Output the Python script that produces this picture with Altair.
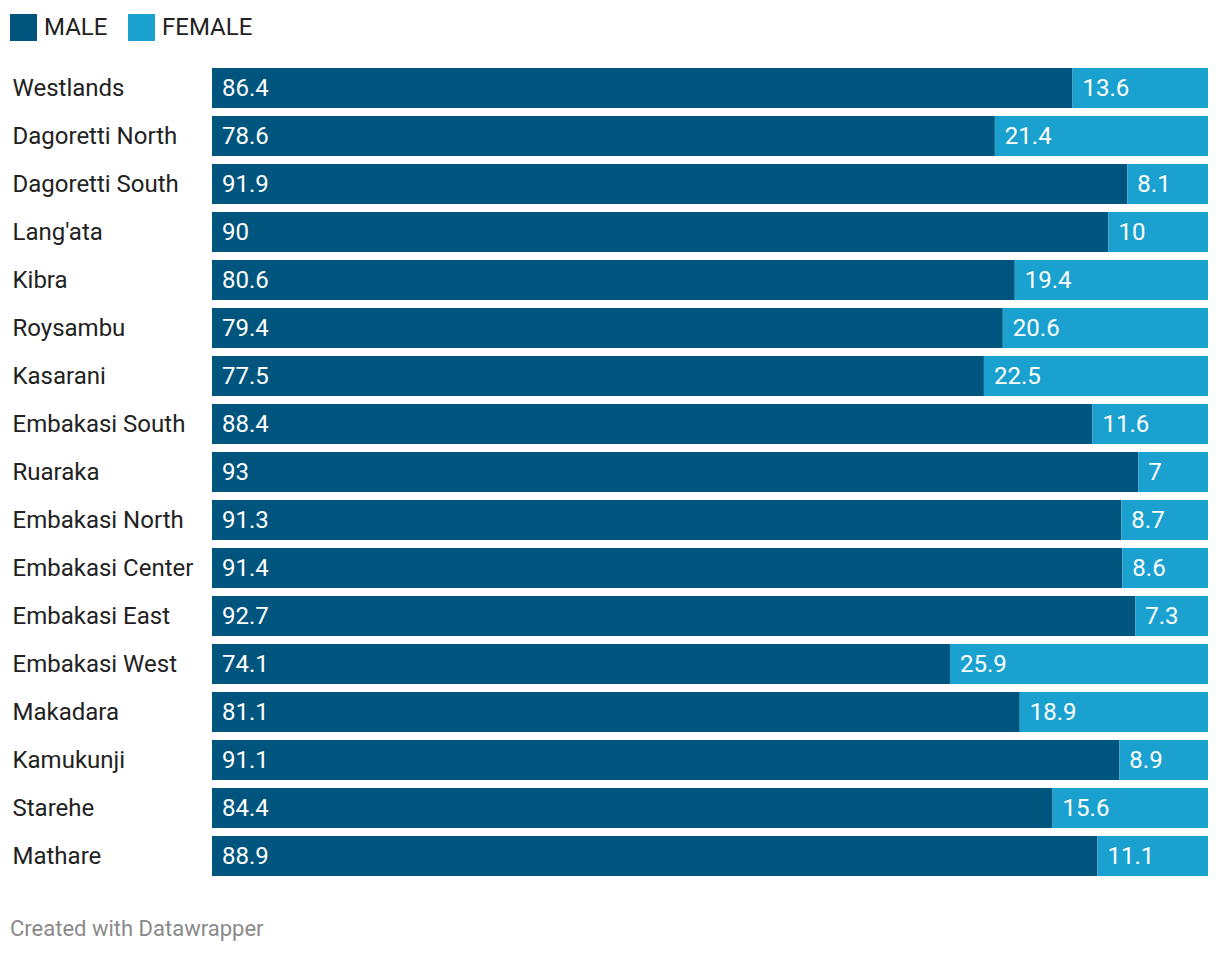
import altair as alt
import pandas as pd

districts = ["Westlands", "Dagoretti North", "Dagoretti South", "Lang'ata", "Kibra",
             "Roysambu", "Kasarani", "Embakasi South", "Ruaraka", "Embakasi North",
             "Embakasi Center", "Embakasi East", "Embakasi West", "Makadara",
             "Kamukunji", "Starehe", "Mathare"]
male = [86.4, 78.6, 91.9, 90, 80.6, 79.4, 77.5, 88.4, 93, 91.3, 91.4, 92.7, 74.1, 81.1, 91.1, 84.4, 88.9]
female = [13.6, 21.4, 8.1, 10, 19.4, 20.6, 22.5, 11.6, 7, 8.7, 8.6, 7.3, 25.9, 18.9, 8.9, 15.6, 11.1]
genders = ["MALE", "FEMALE"]
colors = ["#00557e", "#1aa1cf"]

rows = []
for d, m, f in zip(districts, male, female):
    rows.append({"district": d, "gender": "MALE", "value": m, "start": 0, "ord": 0})
    rows.append({"district": d, "gender": "FEMALE", "value": f, "start": m, "ord": 1})
df = pd.DataFrame(rows)

FONT = "Roboto"

y = alt.Y("district:N", sort=districts, title=None,
          scale=alt.Scale(paddingInner=1/6, paddingOuter=1/12),
          axis=alt.Axis(domain=False, ticks=False, grid=False, labelAlign="left", labelPadding=200,
                        labelOffset=1,
                        labelFont=FONT, labelFontSize=24, labelColor="#222222",
                        labelLimit=0))

bars = alt.Chart(df).mark_bar().encode(
    x=alt.X("value:Q", stack="zero", scale=alt.Scale(domain=[0, 100], nice=False), axis=None),
    y=y,
    color=alt.Color("gender:N", sort=genders,
                    scale=alt.Scale(domain=genders, range=colors),
                    legend=alt.Legend(title=None, orient="none", direction="horizontal",
                                      legendX=-202, legendY=-50,
                                      symbolType="square", symbolSize=729,
                                      symbolStrokeWidth=0, symbolOpacity=1,
                                      labelFont=FONT, labelFontSize=24, labelColor="#222222",
                                      labelOffset=7, columnPadding=20, padding=0)),
    order=alt.Order("ord:Q"),
)

labels = alt.Chart(df).mark_text(align="left", baseline="middle", dx=10, dy=1, color="white",
                                 font=FONT, fontSize=24).encode(
    x=alt.X("start:Q", scale=alt.Scale(domain=[0, 100], nice=False), axis=None),
    y=y,
    text=alt.Text("value:Q", format=".4~g"),
)

chart = (bars + labels).properties(
    width=996, height=816,
    background="white",
    padding={"left": 2, "top": 6, "right": 4, "bottom": 10},
    title=alt.TitleParams(text="Created with Datawrapper", orient="bottom", anchor="start",
                          frame="bounds", font=FONT, fontSize=22, fontWeight="normal",
                          color="#8a8a8a", offset=39),
).configure_view(strokeWidth=0)

chart.save("out.html", embed_options={"renderer": "svg", "actions": False})
